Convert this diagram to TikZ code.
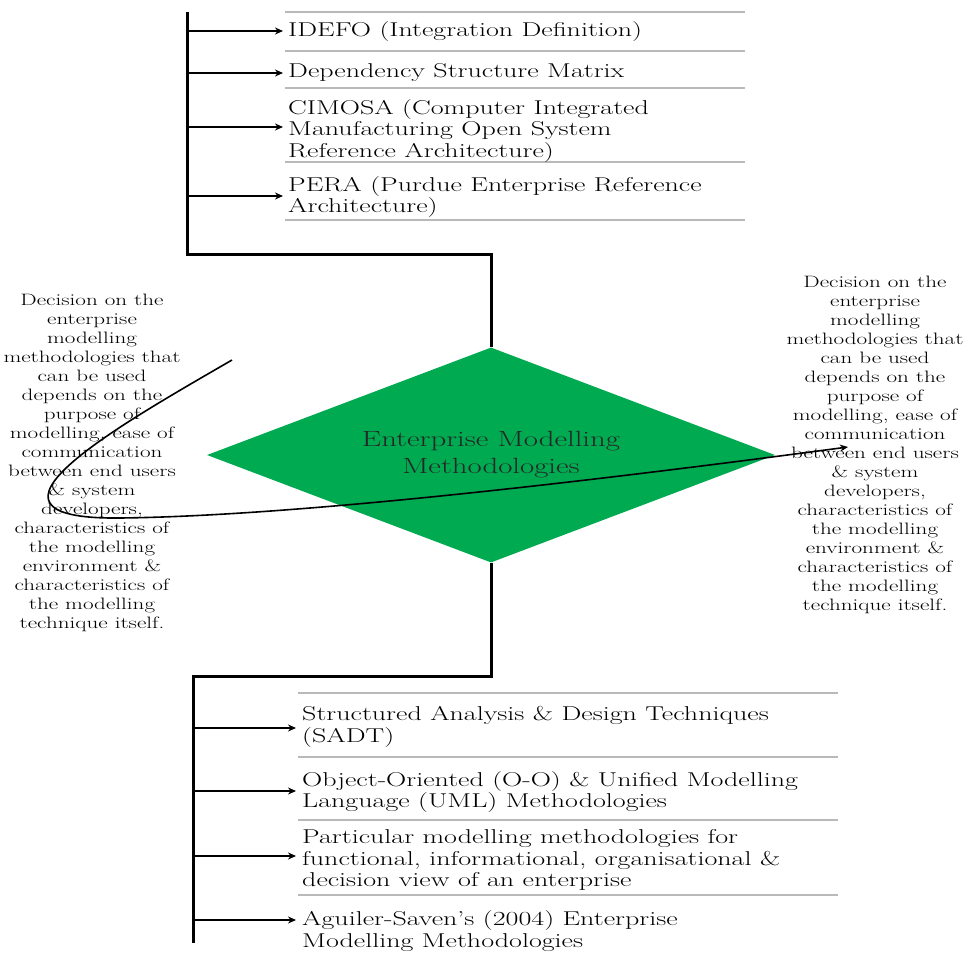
\documentclass[tikz,border=0pt]{standalone}
\usepackage{fontspec}
\setmainfont{Latin Modern Roman}[FakeStretch=1.4]
\usepackage{tikz}
\usetikzlibrary{arrows.meta, shapes.geometric, calc}

\definecolor{emgreen}{RGB}{0,170,80}
\definecolor{sepgray}{RGB}{185,185,185}

\begin{document}
\begin{tikzpicture}[x=1pt, y=-1pt, >={Stealth[length=8pt, width=7pt]},
        trunk/.style={line width=3pt},
        branch/.style={->, line width=1.6pt, shorten >=5pt},
        sepline/.style={sepgray, line width=1.2pt},
        item/.style={anchor=west, inner sep=0pt, align=left, font=\fontsize{20}{21.5}\selectfont},
        note/.style={align=center, inner sep=0pt, font=\fontsize{16.5}{19}\selectfont},
        method/.style={diamond, fill=emgreen, aspect=2.64, minimum width=568pt, minimum height=215pt, inner sep=0pt, align=center, text=black!85, font=\fontsize{22}{27}\selectfont},
        curve/.style={->, line width=1.6pt}]
        \useasboundingbox (0,0) rectangle (968,952);

        \node[method] (emm) at (491,455) {Enterprise Modelling\\Methodologies};

        % upper branch
        \coordinate (t0) at (187,12);
        \coordinate (t1) at (187,31);
        \coordinate (t2) at (187,73);
        \coordinate (t3) at (187,127);
        \coordinate (t4) at (187,196);
        \coordinate (t5) at (187,254);

        \draw[sepline] (285,12) -- (745,12);
        \draw[sepline] (285,51) -- (745,51);
        \draw[sepline] (285,88) -- (745,88);
        \draw[sepline] (285,162) -- (745,162);
        \draw[sepline] (285,220) -- (745,220);

        \node[item] (idef) at (288,32) {IDEFO (Integration Definition)};
        \node[item] (dsm) at (288,73) {Dependency Structure Matrix};
        \node[item] (cimosa) at (288,131) {CIMOSA (Computer Integrated\\Manufacturing Open System\\Reference Architecture)};
        \node[item] (pera) at (288,197) {PERA (Purdue Enterprise Reference\\Architecture)};

        \draw[trunk] (t0) -- (t5) -| (emm.north);
        \draw[branch] (t1) -- (t1 -| idef.west);
        \draw[branch] (t2) -- (t2 -| dsm.west);
        \draw[branch] (t3) -- (t3 -| cimosa.west);
        \draw[branch] (t4) -- (t4 -| pera.west);

        % lower branch
        \coordinate (b0) at (193,676);
        \coordinate (b1) at (193,728);
        \coordinate (b2) at (193,791);
        \coordinate (b3) at (193,856);
        \coordinate (b4) at (193,920);
        \coordinate (b5) at (193,943);

        \draw[sepline] (298,693) -- (838,693);
        \draw[sepline] (298,757) -- (838,757);
        \draw[sepline] (298,820) -- (838,820);
        \draw[sepline] (298,895) -- (838,895);

        \node[item] (sadt) at (302,727) {Structured Analysis \& Design Techniques\\(SADT)};
        \node[item] (uml) at (302,792) {Object-Oriented (O-O) \& Unified Modelling\\Language (UML) Methodologies};
        \node[item] (views) at (302,860) {Particular modelling methodologies for\\functional, informational, organisational \&\\decision view of an enterprise};
        \node[item] (aguil) at (302,931) {Aguiler-Saven's (2004) Enterprise\\Modelling Methodologies};

        \draw[trunk] (emm.south) |- (b0) -- (b5);
        \draw[branch, shorten >=6pt] (b1) -- (b1 -| sadt.west);
        \draw[branch, shorten >=6pt] (b2) -- (b2 -| uml.west);
        \draw[branch, shorten >=6pt] (b3) -- (b3 -| views.west);
        \draw[branch, shorten >=6pt] (b4) -- (b4 -| aguil.west);

        % side notes
        \node[note] (lnote) at (92,463) {Decision on the\\enterprise\\modelling\\methodologies that\\can be used\\depends on the\\purpose of\\modelling, ease of\\communication\\between end users\\\& system\\developers,\\characteristics of\\the modelling\\environment \&\\characteristics of\\the modelling\\technique itself.};
        \node[note] (rnote) at (875,445) {Decision on the\\enterprise\\modelling\\methodologies that\\can be used\\depends on the\\purpose of\\modelling, ease of\\communication\\between end users\\\& system\\developers,\\characteristics of\\the modelling\\environment \&\\characteristics of\\the modelling\\technique itself.};

        \coordinate (c0) at (232,360);
        \coordinate (c1) at (848,447);
        \draw[curve] (c0) .. controls (120,425) and (-50,520) .. (120,518) .. controls (300,516) and (600,480) .. (c1);

    \end{tikzpicture}
\end{document}
